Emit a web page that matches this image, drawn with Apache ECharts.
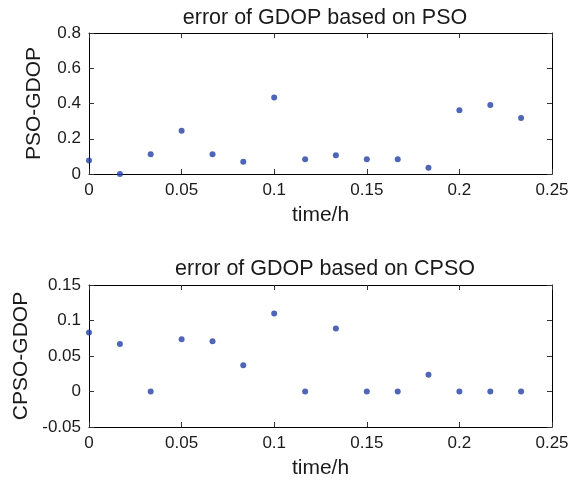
<!DOCTYPE html>
<html>
<head>
<meta charset="utf-8">
<script src="https://cdn.jsdelivr.net/npm/echarts@6/dist/echarts.min.js"></script>
<style>
  html, body { margin: 0; padding: 0; background: #fff; }
  #chart { width: 581px; height: 482px; }
</style>
</head>
<body>
<div id="chart"></div>
<script>
    // time in hours, one sample per minute
    var timeH = [0, 0.0167, 0.0333, 0.05, 0.0667, 0.0833, 0.1, 0.1167, 0.1333, 0.15, 0.1667, 0.1833, 0.2, 0.2167, 0.2333];
    var psoErr = [0.076, 0.0, 0.112, 0.246, 0.112, 0.070, 0.434, 0.083, 0.106, 0.083, 0.083, 0.036, 0.362, 0.392, 0.318];
    var cpsoErr = [0.083, 0.067, 0.0, 0.0735, 0.0706, 0.037, 0.110, 0.0, 0.0886, 0.0, 0.0, 0.0237, 0.0, 0.0, 0.0];
    var titles = ['error of GDOP based on PSO', 'error of GDOP based on CPSO'];
    var yNames = ['PSO-GDOP', 'CPSO-GDOP'];
    var xName = 'time/h';

    var FONT = '"Liberation Sans", Arial, sans-serif';
    var dotColor = '#2340a6';

    function pairs(xs, ys) {
        var out = [];
        for (var i = 0; i < xs.length; i++) {
            out.push([xs[i], ys[i]]);
        }
        return out;
    }

    // small helper so axis configs can share the label style
    function extend(a, b) {
        var o = {}, k;
        for (k in b) { o[k] = b[k]; }
        for (k in a) { o[k] = a[k]; }
        return o;
    }

    var lineStyle = {color: '#000', width: 1};
    var tickStyle = {show: true, inside: true, length: 5, lineStyle: {color: '#333', width: 1}};
    var labelStyle = {color: '#1a1a1a', fontSize: 17, fontFamily: FONT};
    var nameStyle = {color: '#1a1a1a', fontSize: 21, fontFamily: FONT};

    function xAxes(gridIndex) {
        return [{
            type: 'value', gridIndex: gridIndex, position: 'bottom',
            min: 0, max: 0.25, interval: 0.05,
            name: xName, nameLocation: 'middle', nameGap: 31,
            nameTextStyle: nameStyle,
            axisLine: {show: true, onZero: false, lineStyle: lineStyle},
            axisTick: tickStyle,
            axisLabel: extend({margin: 8}, labelStyle),
            splitLine: {show: false}
        }, {
            type: 'value', gridIndex: gridIndex, position: 'top',
            min: 0, max: 0.25, interval: 0.05,
            axisLine: {show: true, onZero: false, lineStyle: lineStyle},
            axisTick: tickStyle,
            axisLabel: {show: false},
            splitLine: {show: false}
        }];
    }

    function yAxes(gridIndex, min, max, step, name) {
        return [{
            type: 'value', gridIndex: gridIndex, position: 'left',
            min: min, max: max, interval: step,
            name: name, nameLocation: 'middle', nameGap: 44,
            nameTextStyle: nameStyle,
            axisLine: {show: true, onZero: false, lineStyle: lineStyle},
            axisTick: tickStyle,
            axisLabel: extend({margin: 8}, labelStyle),
            splitLine: {show: false}
        }, {
            type: 'value', gridIndex: gridIndex, position: 'right',
            min: min, max: max, interval: step,
            axisLine: {show: true, onZero: false, lineStyle: lineStyle},
            axisTick: tickStyle,
            axisLabel: {show: false},
            splitLine: {show: false}
        }];
    }

    var chart = echarts.init(document.getElementById('chart'), null, {renderer: 'canvas'});

    var titleStyle = {color: '#1a1a1a', fontSize: 21.5, fontWeight: 'normal', fontFamily: FONT};

    var option = {
        backgroundColor: '#fff',
        animation: false,
        title: [
            {text: titles[0], left: 320, top: 2, textAlign: 'center', textStyle: titleStyle},
            {text: titles[1], left: 320, top: 253, textAlign: 'center', textStyle: titleStyle}
        ],
        grid: [
            {left: 89, top: 33, width: 463, height: 141},
            {left: 89, top: 285, width: 463, height: 142}
        ],
        xAxis: xAxes(0).concat(xAxes(1)),
        yAxis: yAxes(0, 0, 0.8, 0.2, yNames[0]).concat(yAxes(1, -0.05, 0.15, 0.05, yNames[1])),
        series: [{
            type: 'scatter', xAxisIndex: 0, yAxisIndex: 0,
            symbol: 'circle', symbolSize: 6,
            itemStyle: {color: dotColor},
            data: pairs(timeH, psoErr)
        }, {
            type: 'scatter', xAxisIndex: 2, yAxisIndex: 2,
            symbol: 'circle', symbolSize: 6,
            itemStyle: {color: dotColor},
            data: pairs(timeH, cpsoErr)
        }]
    };

    chart.setOption(option);
</script>
</body>
</html>
